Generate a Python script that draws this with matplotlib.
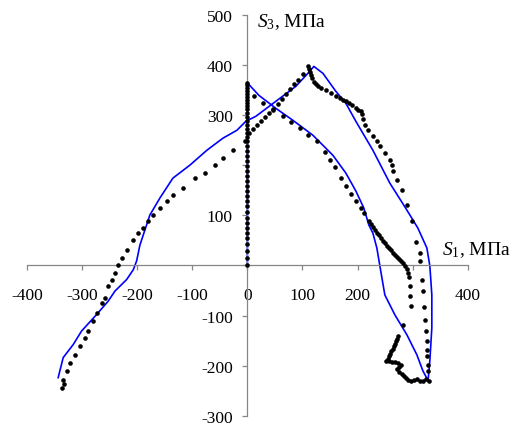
import matplotlib
matplotlib.use("Agg")
import matplotlib.pyplot as plt

plt.rcParams['font.family'] = ['Liberation Serif', 'DejaVu Serif']
plt.rcParams['mathtext.fontset'] = 'custom'
plt.rcParams['mathtext.rm'] = 'Liberation Serif'
plt.rcParams['mathtext.it'] = 'Liberation Serif:italic'

# calculated loading path (blue line), MPa
calc_s1 = [0, 0, 0.9, 20.9, 51.7, 82.6, 118.9, 142.5, 155.2, 178.8, 197, 211.4, 220.5, 227.8,
           235, 240.5, 249.5, 267.7, 289.5, 307.6, 318.5, 328,
           331.2, 334.8, 334.8, 331.2, 325.8, 309.4, 289.5, 258.6, 227.8, 196.9, 178.8, 160.6,
           137.2, 120.7,
           109.8, 88, 51.7, 15.4, -2.7, -19, -44.5, -73.5, -104.4, -135.2, -158.8, -177, -195,
           -201, -207, -219, -240.5, -252.6, -273.7, -301, -316, -334.3, -343.4]
calc_s3 = [0, 363.5, 363.5, 339.6, 313.7, 289.8, 260, 234, 220, 184.3, 148.4, 114.5, 80.7, 64.7,
           34.9, -1, -58.8, -98.6, -138.4, -178.3, -210.2, -230,
           -190.2, -124.5, -58.8, -1, 34.9, 74.7, 110.6, 164.3, 230, 287.8, 323.7, 347.6,
           383.5, 397.4,
           383.5, 357.6, 327.7, 297.8, 287.8, 269.9, 254, 230, 200.2, 174.3, 134.5, 100.6, 40.8,
           9, -8.4, -28, -51.4, -71.3, -98, -131, -157.8, -184, -224]

# measured path (black dots), MPa
# vertical rise along S1 = 0
meas_s1 = [0] * 41
meas_s3 = [0, 15, 29, 43, 55, 65, 75, 85, 95, 106, 118, 128, 138, 148, 158, 168, 178, 188,
           198, 208, 218, 228, 238, 248, 256, 264, 272, 280, 288, 296, 304, 312, 318, 324,
           330, 336, 342, 348, 354, 360, 364]
# inner branch going down
meas_s1 += [11.8, 28.1, 46.3, 64.4, 79, 95.3, 109.8, 126.1, 140.7, 149.7, 158.8, 169.7, 178.8,
            187.9, 196.9, 206, 211.4, 220.5,
            224.2, 227.8, 231.4, 235, 238.7, 242.3, 245.9, 249.5, 253.1, 256.8, 260.4, 264,
            267.7, 271.3, 275, 278.6, 282.2, 285.8, 289.5, 291.3, 293.1,
            294.9, 294.9, 296.2, 282.8]
meas_s3 += [337.6, 323.7, 309.8, 297.8, 285.9, 273.9, 260, 248, 226.1, 210.2, 196.2, 174.3,
            158.4, 142.4, 128.5, 114.5, 104.6, 88.6,
            82.7, 76.7, 70.7, 64.7, 60.8, 54.8, 48.8, 44.8, 38.8, 34.9, 30.9, 24.9,
            20.9, 16.9, 12.9, 9, 5, -1, -7, -14.9, -22.9,
            -40.8, -60.8, -80.7, -118.5]
# unloading steps near the bottom
meas_s1 += [273.2, 271.3, 269.5, 267.7, 265.9, 264.1, 260.4, 258.6, 256.8, 255, 251.4,
            256.8, 262.3, 267.7, 273.2, 278.6, 275, 271.3, 275, 280.4, 284, 287.7, 291.3,
            296.8, 302.2, 307.6, 313.1, 318.5, 324, 329.4]
meas_s3 += [-140.4, -146.4, -150.4, -156.4, -160.4, -166.3, -170.3, -176.3, -180.3, -186.3,
            -190.2, -190.2, -192.2, -192.2, -194.2, -198.2, -202.2, -206.2, -212.1, -216.1,
            -220.1, -224.1, -228.1, -230.1, -228.1, -226.1, -230.1, -230.1, -226.1, -230.1]
# outer branch up to the peak
meas_s1 += [327.6, 327.6, 325.8, 325.8, 325.8, 324, 322.2, 320.3, 318.5, 316.7, 313.1, 313.1,
            305.8, 298.6, 289.5, 280.4, 271.3, 264.1, 262.3, 258.6, 249.5, 240.5, 235,
            227.8, 218.7, 213.3, 209.6, 207.8, 206, 200.5, 196.9, 189.7, 184.2, 178.8, 173.3,
            167.9, 160.6, 151.6, 142.5, 133.4, 127.9, 124.3, 120.7, 117.1, 115.3, 113.4,
            111.6, 109.8]
meas_s3 += [-210.2, -198.2, -180.3, -168.3, -150.4, -130.5, -108.6, -82.7, -50.8, -28.9, 9,
            24.9, 46.8, 88.6, 120.5, 150.4, 170.3, 188.3, 200.2, 210.2, 224.1, 238, 248,
            258, 269.9, 279.9, 291.8, 301.8, 307.8, 309.8, 313.7, 319.7, 323.7, 327.7, 329.7,
            333.7, 337.6, 343.6, 349.6, 353.6, 357.6, 361.6, 365.5, 373.5, 379.5, 385.5,
            391.4, 397.4]
# falling branch to the lower left
meas_s1 += [100.7, 91.7, 84.4, 77.1, 69.9, 62.6, 55.4, 46.3, 39, 31.8, 24.5, 17.2, 10, 2.7,
            -4.5, -26.3, -44.5, -59, -77.1, -95.3, -117.1, -135.2, -146.1, -158.8, -171.5,
            -180.6, -189.7, -198.7, -207.8, -218.7, -227.8, -235, -240.5, -245.9, -253.2,
            -258.6, -264.1, -273.2, -280.4, -289.5, -294.9, -304, -313.1, -322.2, -327.6,
            -334.9, -333, -336.7]
meas_s3 += [381.5, 369.5, 361.6, 351.6, 341.6, 331.7, 321.7, 311.7, 303.7, 295.8, 287.8,
            279.9, 271.9, 263.9, 248, 230, 214.1, 200.2, 184.3, 174.3, 154.4, 140.4, 128.5,
            114.5, 100.6, 88.6, 74.7, 64.7, 50.8, 30.9, 14.9, 1, -14.9, -28.9, -40.8, -64.7,
            -74.7, -94.6, -110.6, -130.5, -144.4, -160.4, -178.3, -194.2, -210.2, -228.1,
            -236, -244]

x_ticks = [-400, -300, -200, -100, 0, 100, 200, 300, 400]
x_labels = ['-400', '-300', '-200', '-100', '0', '100', '200', '', '400']
y_ticks = [-300, -200, -100, 0, 100, 200, 300, 400, 500]
y_labels = ['-300', '-200', '-100', '', '100', '', '300', '400', '500']

fig = plt.figure(figsize=(5.21, 4.27), dpi=100)
ax = fig.add_axes([0.0518, 0.0241, 0.846, 0.9384])

ax.plot(calc_s1, calc_s3, color='#0000ff', lw=1.2, zorder=2)
ax.plot(meas_s1, meas_s3, 'o', color='black', ms=3.3, mew=0, zorder=3)

ax.set_xlim(-400, 400)
ax.set_ylim(-300, 500)

axis_col = '#868686'
for side in ['top', 'right']:
    ax.spines[side].set_visible(False)
for side in ['left', 'bottom']:
    ax.spines[side].set_position(('data', 0))
    ax.spines[side].set_color(axis_col)
    ax.spines[side].set_linewidth(0.9)

ax.set_xticks(x_ticks)
ax.set_xticklabels(x_labels)
ax.set_yticks(y_ticks)
ax.set_yticklabels(y_labels)
ax.tick_params(axis='both', direction='out', length=3.5, width=0.9, color=axis_col,
               labelsize=12.5, labelcolor='black')
ax.tick_params(axis='x', pad=12)
ax.tick_params(axis='y', pad=7)

fig.text(0.493, 0.937, r'$S_3$, МПа', fontsize=14, va='baseline', ha='left')
fig.text(0.848, 0.403, r'$S_1$, МПа', fontsize=14, va='baseline', ha='left')

fig.savefig('out.png', dpi=100)
